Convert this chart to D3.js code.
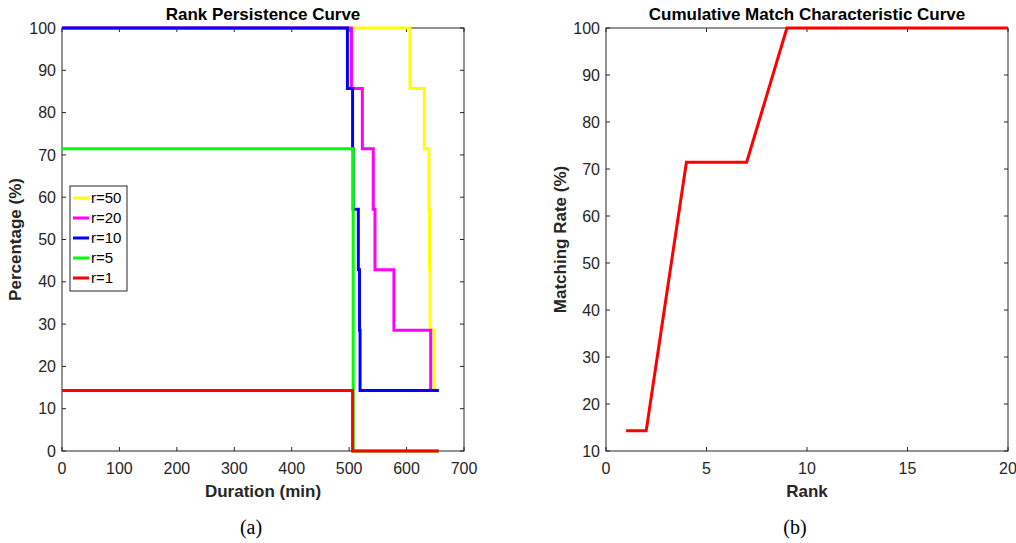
<!DOCTYPE html>
<html>
<head>
<meta charset="utf-8">
<script src="https://cdn.jsdelivr.net/npm/d3@7"></script>
<style>
  body { margin: 0; background: #fff; }
  svg text { font-family: "Liberation Sans", Arial, sans-serif; }
</style>
</head>
<body>
<svg id="chart" width="1016" height="543"></svg>
<script>
'use strict';

// rank persistence: step curves, [duration (min), percentage]
const rankLabels = ['r=50', 'r=20', 'r=10', 'r=5', 'r=1'];
const rankColors = ['#ffff00', '#ff00ff', '#0000ff', '#00ff00', '#ff0000'];
const r50 = [[0, 100], [606, 85.71], [631, 71.43], [639, 57.14], [640, 42.86], [641, 28.57], [648, 14.29], [656, 14.29]];
const r20 = [[0, 100], [504, 85.71], [523, 71.43], [542, 57.14], [545, 42.86], [578, 28.57], [642, 14.29], [656, 14.29]];
const r10 = [[0, 100], [497, 85.71], [506, 71.43], [507, 57.14], [516, 42.86], [518, 28.57], [519, 14.29], [656, 14.29]];
const r5 = [[0, 71.43], [507, 0], [656, 0]];
const r1 = [[0, 14.29], [506, 0], [656, 0]];
const rankSeries = [r50, r20, r10, r5, r1];

// cumulative match characteristic
const cmcRanks = d3.range(1, 21);
const cmcRates = [14.29, 14.29, 42.86, 71.43, 71.43, 71.43, 71.43, 85.71, 100, 100,
                  100, 100, 100, 100, 100, 100, 100, 100, 100, 100];

const svg = d3.select('#chart');
const axisColor = '#262626';
const plotTop = 28, plotBottom = 451;

function drawFrame(x, y, xTicks, yTicks) {
    let g = svg.append('g');
    let x0 = x.range()[0], x1 = x.range()[1];
    let tickLen = 4;

    // inner ticks on all four sides, like a boxed axes
    g.selectAll('.xt').data(xTicks).join('g').each(function (d) {
        let s = d3.select(this);
        s.append('line').attr('x1', x(d)).attr('x2', x(d)).attr('y1', plotBottom).attr('y2', plotBottom - tickLen);
        s.append('line').attr('x1', x(d)).attr('x2', x(d)).attr('y1', plotTop).attr('y2', plotTop + tickLen);
    });
    g.selectAll('.yt').data(yTicks).join('g').each(function (d) {
        let s = d3.select(this);
        s.append('line').attr('x1', x0).attr('x2', x0 + tickLen).attr('y1', y(d)).attr('y2', y(d));
        s.append('line').attr('x1', x1).attr('x2', x1 - tickLen).attr('y1', y(d)).attr('y2', y(d));
    });
    g.selectAll('line').attr('stroke', axisColor).attr('stroke-width', 1);

    g.append('rect')
        .attr('x', x0).attr('y', plotTop)
        .attr('width', x1 - x0).attr('height', plotBottom - plotTop)
        .attr('fill', 'none').attr('stroke', axisColor).attr('stroke-width', 1);

    g.selectAll('.xl').data(xTicks).join('text')
        .attr('x', d => x(d)).attr('y', plotBottom + 23)
        .attr('text-anchor', 'middle').attr('font-size', 16).attr('fill', axisColor)
        .text(d => d);
    g.selectAll('.yl').data(yTicks).join('text')
        .attr('x', x0 - 6).attr('y', d => y(d)).attr('dy', '.35em')
        .attr('text-anchor', 'end').attr('font-size', 16).attr('fill', axisColor)
        .text(d => d);
    return g;
}

function labels(x, title, xLabel, yLabel, yLabelX, caption) {
    let cx = (x.range()[0] + x.range()[1]) / 2;
    svg.append('text').attr('x', cx).attr('y', 20).attr('text-anchor', 'middle')
        .attr('font-size', 17).attr('font-weight', 'bold').text(title);
    svg.append('text').attr('x', cx).attr('y', 497).attr('text-anchor', 'middle')
        .attr('font-size', 17).attr('font-weight', 'bold').attr('fill', axisColor).text(xLabel);
    svg.append('text').attr('transform', 'translate(' + yLabelX + ',' + ((plotTop + plotBottom) / 2) + ')rotate(-90)')
        .attr('text-anchor', 'middle').attr('font-size', 17).attr('font-weight', 'bold')
        .attr('fill', axisColor).text(yLabel);
    svg.append('text').attr('x', cx - 12).attr('y', 534).attr('text-anchor', 'middle')
        .attr('font-size', 20).style('font-family', '"Liberation Serif", "Times New Roman", serif')
        .text(caption);
}

// (a) rank persistence curve
let xa = d3.scaleLinear().domain([0, 700]).range([62, 464]);
let ya = d3.scaleLinear().domain([0, 100]).range([plotBottom, plotTop]);
drawFrame(xa, ya, d3.range(0, 701, 100), d3.range(0, 101, 10));

let stepLine = d3.line().x(d => xa(d[0])).y(d => ya(d[1])).curve(d3.curveStepAfter);
rankSeries.forEach(function (s, i) {
    svg.append('path').datum(s)
        .attr('d', stepLine)
        .attr('fill', 'none')
        .attr('stroke', rankColors[i])
        .attr('stroke-width', 3);
});

let legend = svg.append('g').attr('transform', 'translate(70,186)');
legend.append('rect').attr('width', 57).attr('height', 105)
    .attr('fill', '#fff').attr('stroke', axisColor).attr('stroke-width', 1);
rankLabels.forEach(function (lab, i) {
    let yy = 12 + i * 20;
    legend.append('line').attr('x1', 3).attr('x2', 19).attr('y1', yy).attr('y2', yy)
        .attr('stroke', rankColors[i]).attr('stroke-width', 3);
    legend.append('text').attr('x', 21).attr('y', yy).attr('dy', '.35em')
        .attr('font-size', 15).text(lab);
});

labels(xa, 'Rank Persistence Curve', 'Duration (min)', 'Percentage (%)', 21, '(a)');

// (b) cumulative match characteristic curve
let xb = d3.scaleLinear().domain([0, 20]).range([606, 1008]);
let yb = d3.scaleLinear().domain([10, 100]).range([plotBottom, plotTop]);
drawFrame(xb, yb, d3.range(0, 21, 5), d3.range(10, 101, 10));

svg.append('path').datum(cmcRanks)
    .attr('d', d3.line().x(d => xb(d)).y((d, i) => yb(cmcRates[i])))
    .attr('fill', 'none')
    .attr('stroke', '#ff0000')
    .attr('stroke-width', 3);

labels(xb, 'Cumulative Match Characteristic Curve', 'Rank', 'Matching Rate (%)', 566, '(b)');
</script>
</body>
</html>
